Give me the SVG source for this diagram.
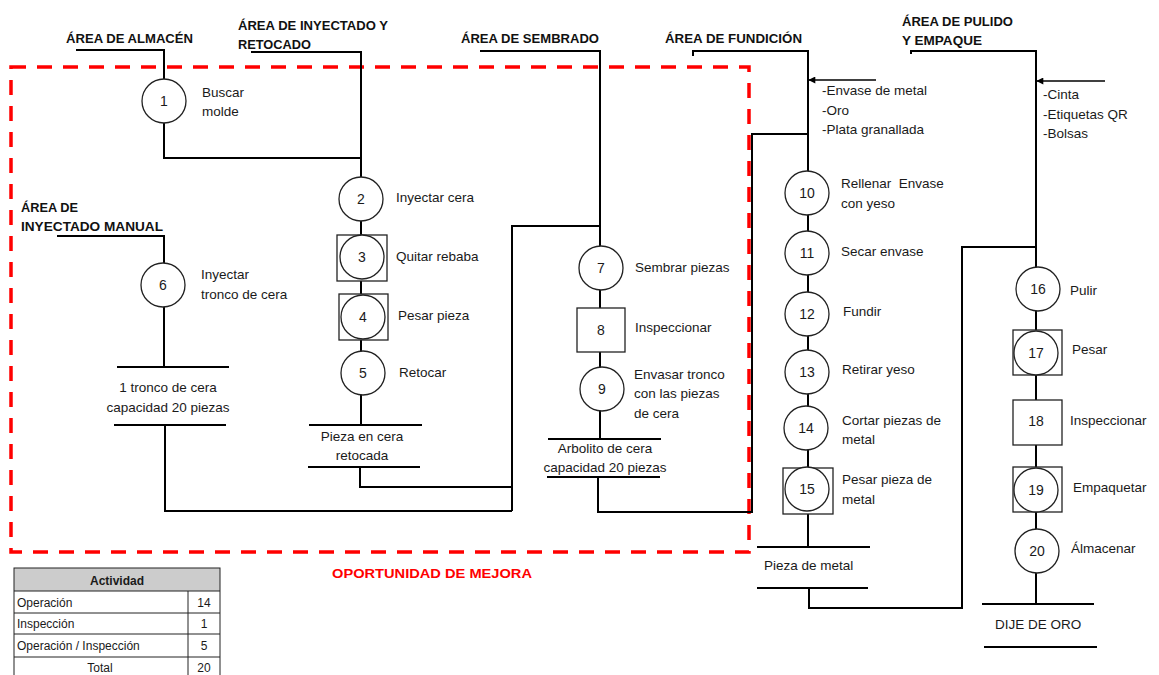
<svg xmlns="http://www.w3.org/2000/svg" width="1159" height="675" viewBox="0 0 1159 675">
  <defs>
    <marker id="arrow" viewBox="0 0 10 10" refX="9" refY="5" markerWidth="9" markerHeight="7" markerUnits="userSpaceOnUse" orient="auto">
      <path d="M0,0 L10,5 L0,10 z" fill="#000"/>
    </marker>
    <style>
      text { font-family: "Liberation Sans", Arial, sans-serif; fill: #1a1a1a; }
      .hdr { font-weight: bold; font-size: 13px; fill: #111; }
      .lbl { font-size: 13.5px; }
      .num { font-size: 14px; text-anchor: middle; }
      .mid { text-anchor: middle; }
      .op { fill: #fff; stroke: #222; stroke-width: 1.3; }
      .insp { fill: #fff; stroke: #222; stroke-width: 1.3; }
      .wire { fill: none; stroke: #000; stroke-width: 2; }
      .bar { stroke: #000; stroke-width: 2.2; }
      .zone { fill: none; stroke: #ff0000; stroke-width: 3.5; stroke-dasharray: 15 11; }
      .tbl { font-size: 12px; }
      .grid { stroke: #222; stroke-width: 1; fill: none; }
    </style>
  </defs>

  <rect width="1159" height="675" fill="#fff"/>

  <!-- improvement zone -->
  <rect class="zone" x="11" y="67" width="738" height="485"/>
  <text x="332" y="578" font-weight="bold" font-size="13px" style="fill:#ff0000" textLength="200" lengthAdjust="spacingAndGlyphs">OPORTUNIDAD DE MEJORA</text>

  <!-- area headers -->
  <g id="headers">
    <text class="hdr" x="66" y="43" textLength="127" lengthAdjust="spacingAndGlyphs">ÁREA DE ALMACÉN</text>
    <text class="hdr" x="238" y="30" textLength="150" lengthAdjust="spacingAndGlyphs">ÁREA DE INYECTADO Y</text>
    <text class="hdr" x="238" y="49" textLength="73" lengthAdjust="spacingAndGlyphs">RETOCADO</text>
    <text class="hdr" x="21" y="212" textLength="57" lengthAdjust="spacingAndGlyphs">ÁREA DE</text>
    <text class="hdr" x="21" y="231" textLength="142" lengthAdjust="spacingAndGlyphs">INYECTADO MANUAL</text>
    <text class="hdr" x="461" y="43" textLength="138" lengthAdjust="spacingAndGlyphs">ÁREA DE SEMBRADO</text>
    <text class="hdr" x="665" y="43" textLength="137" lengthAdjust="spacingAndGlyphs">ÁREA DE FUNDICIÓN</text>
    <text class="hdr" x="902" y="26" textLength="111" lengthAdjust="spacingAndGlyphs">ÁREA DE PULIDO</text>
    <text class="hdr" x="902" y="45" textLength="80" lengthAdjust="spacingAndGlyphs">Y EMPAQUE</text>
  </g>

  <!-- connectors -->
  <g id="connectors">
    <path class="wire" d="M76,50 H164 V158 H361"/>
    <path class="wire" d="M251,52 H361 V425"/>
    <path class="wire" d="M57,236 H164 V367"/>
    <path class="wire" d="M480,51 H600 V439"/>
    <path class="wire" d="M693,56 V51 H808 V547"/>
    <path class="wire" d="M911,54 V51 H1036 V604"/>
    <path class="wire" d="M165,425 V511 H512"/>
    <path class="wire" d="M360,467 V487 H512"/>
    <path class="wire" d="M512,511 V226 H600"/>
    <path class="wire" d="M598,477 V512 H752 V134 H808"/>
    <path class="wire" d="M809,588 V608 H962 V247 H1036"/>
    <line x1="876" y1="80" x2="809" y2="80" stroke="#000" stroke-width="1.5" marker-end="url(#arrow)"/>
    <line x1="1105" y1="81" x2="1037" y2="81" stroke="#000" stroke-width="1.5" marker-end="url(#arrow)"/>
  </g>

  <!-- inputs -->
  <g id="input-fundicion">
    <text class="lbl" x="822" y="95">-Envase de metal</text>
    <text class="lbl" x="822" y="115">-Oro</text>
    <text class="lbl" x="822" y="134">-Plata granallada</text>
  </g>
  <g id="input-empaque">
    <text class="lbl" x="1043" y="99">-Cinta</text>
    <text class="lbl" x="1043" y="119">-Etiquetas QR</text>
    <text class="lbl" x="1043" y="138">-Bolsas</text>
  </g>

  <!-- storage bars -->
  <g id="store-tronco">
    <line class="bar" x1="117" y1="367" x2="229" y2="367"/>
    <line class="bar" x1="114" y1="425" x2="226" y2="425"/>
    <text class="lbl mid" x="168" y="392">1 tronco de cera</text>
    <text class="lbl mid" x="168" y="412">capacidad 20 piezas</text>
  </g>
  <g id="store-pieza-cera">
    <line class="bar" x1="309" y1="425" x2="422" y2="425"/>
    <line class="bar" x1="308" y1="467" x2="420" y2="467"/>
    <text class="lbl mid" x="362" y="441">Pieza en cera</text>
    <text class="lbl mid" x="362" y="460">retocada</text>
  </g>
  <g id="store-arbolito">
    <line class="bar" x1="548" y1="439" x2="661" y2="439"/>
    <line class="bar" x1="547" y1="477" x2="660" y2="477"/>
    <text class="lbl mid" x="605" y="453">Arbolito de cera</text>
    <text class="lbl mid" x="605" y="472">capacidad 20 piezas</text>
  </g>
  <g id="store-metal">
    <line class="bar" x1="757" y1="547" x2="870" y2="547"/>
    <line class="bar" x1="757" y1="588" x2="868" y2="588"/>
    <text class="lbl" x="764" y="570">Pieza de metal</text>
  </g>
  <g id="store-dije">
    <line class="bar" x1="982" y1="604" x2="1094" y2="604"/>
    <line class="bar" x1="984" y1="647" x2="1097" y2="647"/>
    <text class="lbl" x="995" y="629">DIJE DE ORO</text>
  </g>

  <!-- activities -->
  <g id="n1"><circle class="op" cx="164" cy="101" r="22"/><text class="num" x="164" y="106">1</text>
    <text class="lbl" x="202" y="97">Buscar</text><text class="lbl" x="202" y="116">molde</text></g>
  <g id="n2"><circle class="op" cx="361" cy="199" r="22"/><text class="num" x="361" y="204">2</text>
    <text class="lbl" x="396" y="202">Inyectar cera</text></g>
  <g id="n3"><rect class="insp" x="337" y="235" width="50" height="46"/><circle class="op" cx="362" cy="257" r="22"/><text class="num" x="362" y="262">3</text>
    <text class="lbl" x="396" y="261">Quitar rebaba</text></g>
  <g id="n4"><rect class="insp" x="339" y="294" width="49" height="46"/><circle class="op" cx="363" cy="317" r="22"/><text class="num" x="363" y="322">4</text>
    <text class="lbl" x="398" y="320">Pesar pieza</text></g>
  <g id="n5"><circle class="op" cx="363" cy="373" r="22"/><text class="num" x="363" y="378">5</text>
    <text class="lbl" x="399" y="377">Retocar</text></g>
  <g id="n6"><circle class="op" cx="163" cy="285" r="22"/><text class="num" x="163" y="290">6</text>
    <text class="lbl" x="201" y="279">Inyectar</text><text class="lbl" x="201" y="299">tronco de cera</text></g>
  <g id="n7"><circle class="op" cx="601" cy="268" r="22"/><text class="num" x="601" y="273">7</text>
    <text class="lbl" x="635" y="272">Sembrar piezas</text></g>
  <g id="n8"><rect class="insp" x="577" y="308" width="48" height="44"/><text class="num" x="601" y="335">8</text>
    <text class="lbl" x="635" y="332">Inspeccionar</text></g>
  <g id="n9"><circle class="op" cx="602" cy="389" r="22"/><text class="num" x="602" y="394">9</text>
    <text class="lbl" x="634" y="379">Envasar tronco</text><text class="lbl" x="634" y="398">con las piezas</text><text class="lbl" x="634" y="418">de cera</text></g>
  <g id="n10"><circle class="op" cx="807" cy="193" r="22"/><text class="num" x="807" y="198">10</text>
    <text class="lbl" x="841" y="188" xml:space="preserve">Rellenar  Envase</text><text class="lbl" x="841" y="208">con yeso</text></g>
  <g id="n11"><circle class="op" cx="807" cy="253" r="22"/><text class="num" x="807" y="258">11</text>
    <text class="lbl" x="841" y="256">Secar envase</text></g>
  <g id="n12"><circle class="op" cx="807" cy="314" r="22"/><text class="num" x="807" y="319">12</text>
    <text class="lbl" x="843" y="316">Fundir</text></g>
  <g id="n13"><circle class="op" cx="807" cy="372" r="22"/><text class="num" x="807" y="377">13</text>
    <text class="lbl" x="842" y="374">Retirar yeso</text></g>
  <g id="n14"><circle class="op" cx="806" cy="428" r="22"/><text class="num" x="806" y="433">14</text>
    <text class="lbl" x="842" y="425">Cortar piezas de</text><text class="lbl" x="842" y="444">metal</text></g>
  <g id="n15"><rect class="insp" x="783" y="468" width="50" height="46"/><circle class="op" cx="807" cy="489" r="22"/><text class="num" x="807" y="494">15</text>
    <text class="lbl" x="842" y="484">Pesar pieza de</text><text class="lbl" x="842" y="504">metal</text></g>
  <g id="n16"><circle class="op" cx="1038" cy="289" r="22"/><text class="num" x="1038" y="294">16</text>
    <text class="lbl" x="1070" y="295">Pulir</text></g>
  <g id="n17"><rect class="insp" x="1013" y="330" width="49" height="45"/><circle class="op" cx="1036" cy="353" r="22"/><text class="num" x="1036" y="358">17</text>
    <text class="lbl" x="1072" y="354">Pesar</text></g>
  <g id="n18"><rect class="insp" x="1013" y="400" width="49" height="45"/><text class="num" x="1036" y="426">18</text>
    <text class="lbl" x="1070" y="425">Inspeccionar</text></g>
  <g id="n19"><rect class="insp" x="1013" y="467" width="49" height="45"/><circle class="op" cx="1036" cy="490" r="22"/><text class="num" x="1036" y="495">19</text>
    <text class="lbl" x="1073" y="492">Empaquetar</text></g>
  <g id="n20"><circle class="op" cx="1037" cy="551" r="22"/><text class="num" x="1037" y="556">20</text>
    <text class="lbl" x="1071" y="553">Álmacenar</text></g>

  <!-- activity summary table -->
  <g id="summary">
    <rect x="14" y="568" width="206" height="23" fill="#cccccc"/>
    <rect class="grid" x="14" y="568" width="206" height="112" stroke-width="1.5"/>
    <line class="grid" x1="14" y1="591" x2="220" y2="591"/>
    <line class="grid" x1="14" y1="613" x2="220" y2="613"/>
    <line class="grid" x1="14" y1="634" x2="220" y2="634"/>
    <line class="grid" x1="14" y1="657" x2="220" y2="657"/>
    <line class="grid" x1="188" y1="591" x2="188" y2="680"/>
    <text class="tbl mid" x="117" y="585" font-weight="bold">Actividad</text>
    <text class="tbl" x="17" y="607">Operación</text>
    <text class="tbl mid" x="204" y="607">14</text>
    <text class="tbl" x="17" y="628">Inspección</text>
    <text class="tbl mid" x="204" y="628">1</text>
    <text class="tbl" x="17" y="650">Operación / Inspección</text>
    <text class="tbl mid" x="204" y="650">5</text>
    <text class="tbl mid" x="100" y="672">Total</text>
    <text class="tbl mid" x="204" y="672">20</text>
  </g>
</svg>
